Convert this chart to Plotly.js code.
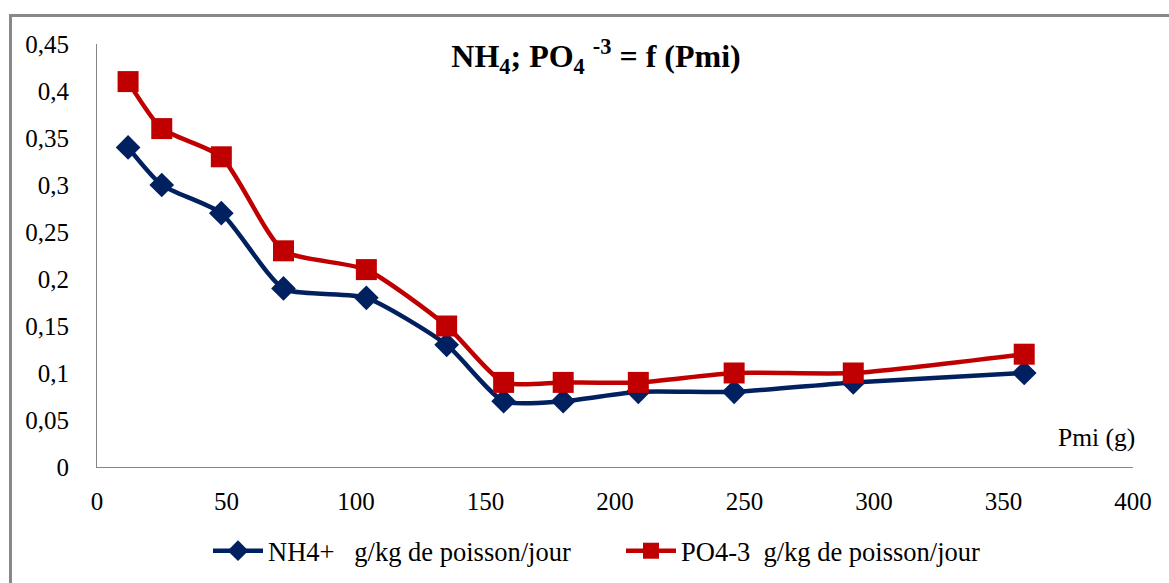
<!DOCTYPE html>
<html>
<head>
<meta charset="utf-8">
<script src="https://cdn.plot.ly/plotly-3.0.1.min.js"></script>
<style>
  html, body { margin: 0; padding: 0; background: #ffffff; }
  #wrap { position: relative; width: 1169px; height: 583px; overflow: hidden; }
  #chart { position: absolute; left: 0; top: 0; width: 1169px; height: 583px; }
  #frame { position: absolute; left: 9px; top: 14px; width: 1200px; height: 600px;
           border-top: 3px solid #888888; border-left: 3px solid #888888; pointer-events: none; }
  #chart svg text, #chart g.xtick text, #chart g.ytick text {
    font-family: "Times New Roman", "Liberation Serif", serif !important;
  }
</style>
</head>
<body>
<div id="wrap">
  <div id="chart"></div>
  <div id="frame"></div>
</div>
<script>
// Data
const pmi = [12, 25, 48, 72, 104, 135, 157, 180, 209, 246, 292, 358];
const nh4 = [0.34, 0.30, 0.27, 0.19, 0.18, 0.13, 0.07, 0.07, 0.08, 0.08, 0.09, 0.10];
const po4 = [0.41, 0.36, 0.33, 0.23, 0.21, 0.15, 0.09, 0.09, 0.09, 0.10, 0.10, 0.12];
const seriesNames = ["NH4+\u00A0\u00A0\u00A0g/kg de poisson/jour", "PO4-3\u00A0\u00A0g/kg de poisson/jour"];
const chartTitle = "NH<sub>4</sub>; PO<sub>4</sub> <sup>-3</sup> = f (Pmi)";
const xLabel = "Pmi (g)";

const FONT = "Times New Roman";

const traces = [
  {
    x: pmi, y: nh4, name: seriesNames[0], type: "scatter", mode: "lines+markers",
    line: { color: "#002060", width: 4.5, shape: "spline", smoothing: 0.6 },
    marker: { symbol: "diamond", size: 19, color: "#002060", line: { width: 0 } }
  },
  {
    x: pmi, y: po4, name: seriesNames[1], type: "scatter", mode: "lines+markers",
    line: { color: "#C00000", width: 4.5, shape: "spline", smoothing: 0.6 },
    marker: { symbol: "square", size: 21, color: "#C00000", line: { width: 0 } }
  }
];

const layout = {
  width: 1169, height: 583,
  margin: { l: 97, r: 36, t: 44, b: 116, pad: 0 },
  paper_bgcolor: "rgba(0,0,0,0)",
  plot_bgcolor: "rgba(0,0,0,0)",
  separators: ", ",
  font: { family: FONT, size: 25, color: "#000000" },
  showlegend: true,
  title: {
    text: chartTitle,
    font: { family: FONT, size: 32, color: "#000000", weight: "bold" },
    x: (596 - 97) / 1036, xref: "paper", xanchor: "center",
    y: 1 - 56 / 583, yref: "container", yanchor: "middle"
  },
  xaxis: {
    range: [0, 400], dtick: 50, tick0: 0,
    showgrid: false, zeroline: false,
    showline: true, linecolor: "#868686", linewidth: 1,
    ticks: "", ticklabelstandoff: 12,
    tickfont: { family: FONT, size: 25, color: "#000000" }
  },
  yaxis: {
    range: [0, 0.45], dtick: 0.05, tick0: 0,
    showgrid: false, zeroline: false,
    showline: true, linecolor: "#868686", linewidth: 1,
    ticks: "", ticklabelstandoff: 22,
    tickfont: { family: FONT, size: 25, color: "#000000" }
  },
  legend: {
    orientation: "h", x: (208 - 97) / 1036, xanchor: "left", xref: "paper",
    y: 1 - 551 / 583, yref: "container", yanchor: "middle",
    font: { family: FONT, size: 26.5, color: "#000000" },
    itemwidth: 50, entrywidth: 348, entrywidthmode: "pixels",
    bgcolor: "rgba(0,0,0,0)"
  },
  annotations: [
    {
      text: xLabel, xref: "paper", yref: "paper",
      x: (1096 - 97) / 1036, y: (467 - 437) / 423,
      xanchor: "center", yanchor: "middle", showarrow: false,
      font: { family: FONT, size: 25.5, color: "#000000" }
    }
  ]
};

Plotly.newPlot("chart", traces, layout, { displayModeBar: false, staticPlot: true });
</script>
</body>
</html>
